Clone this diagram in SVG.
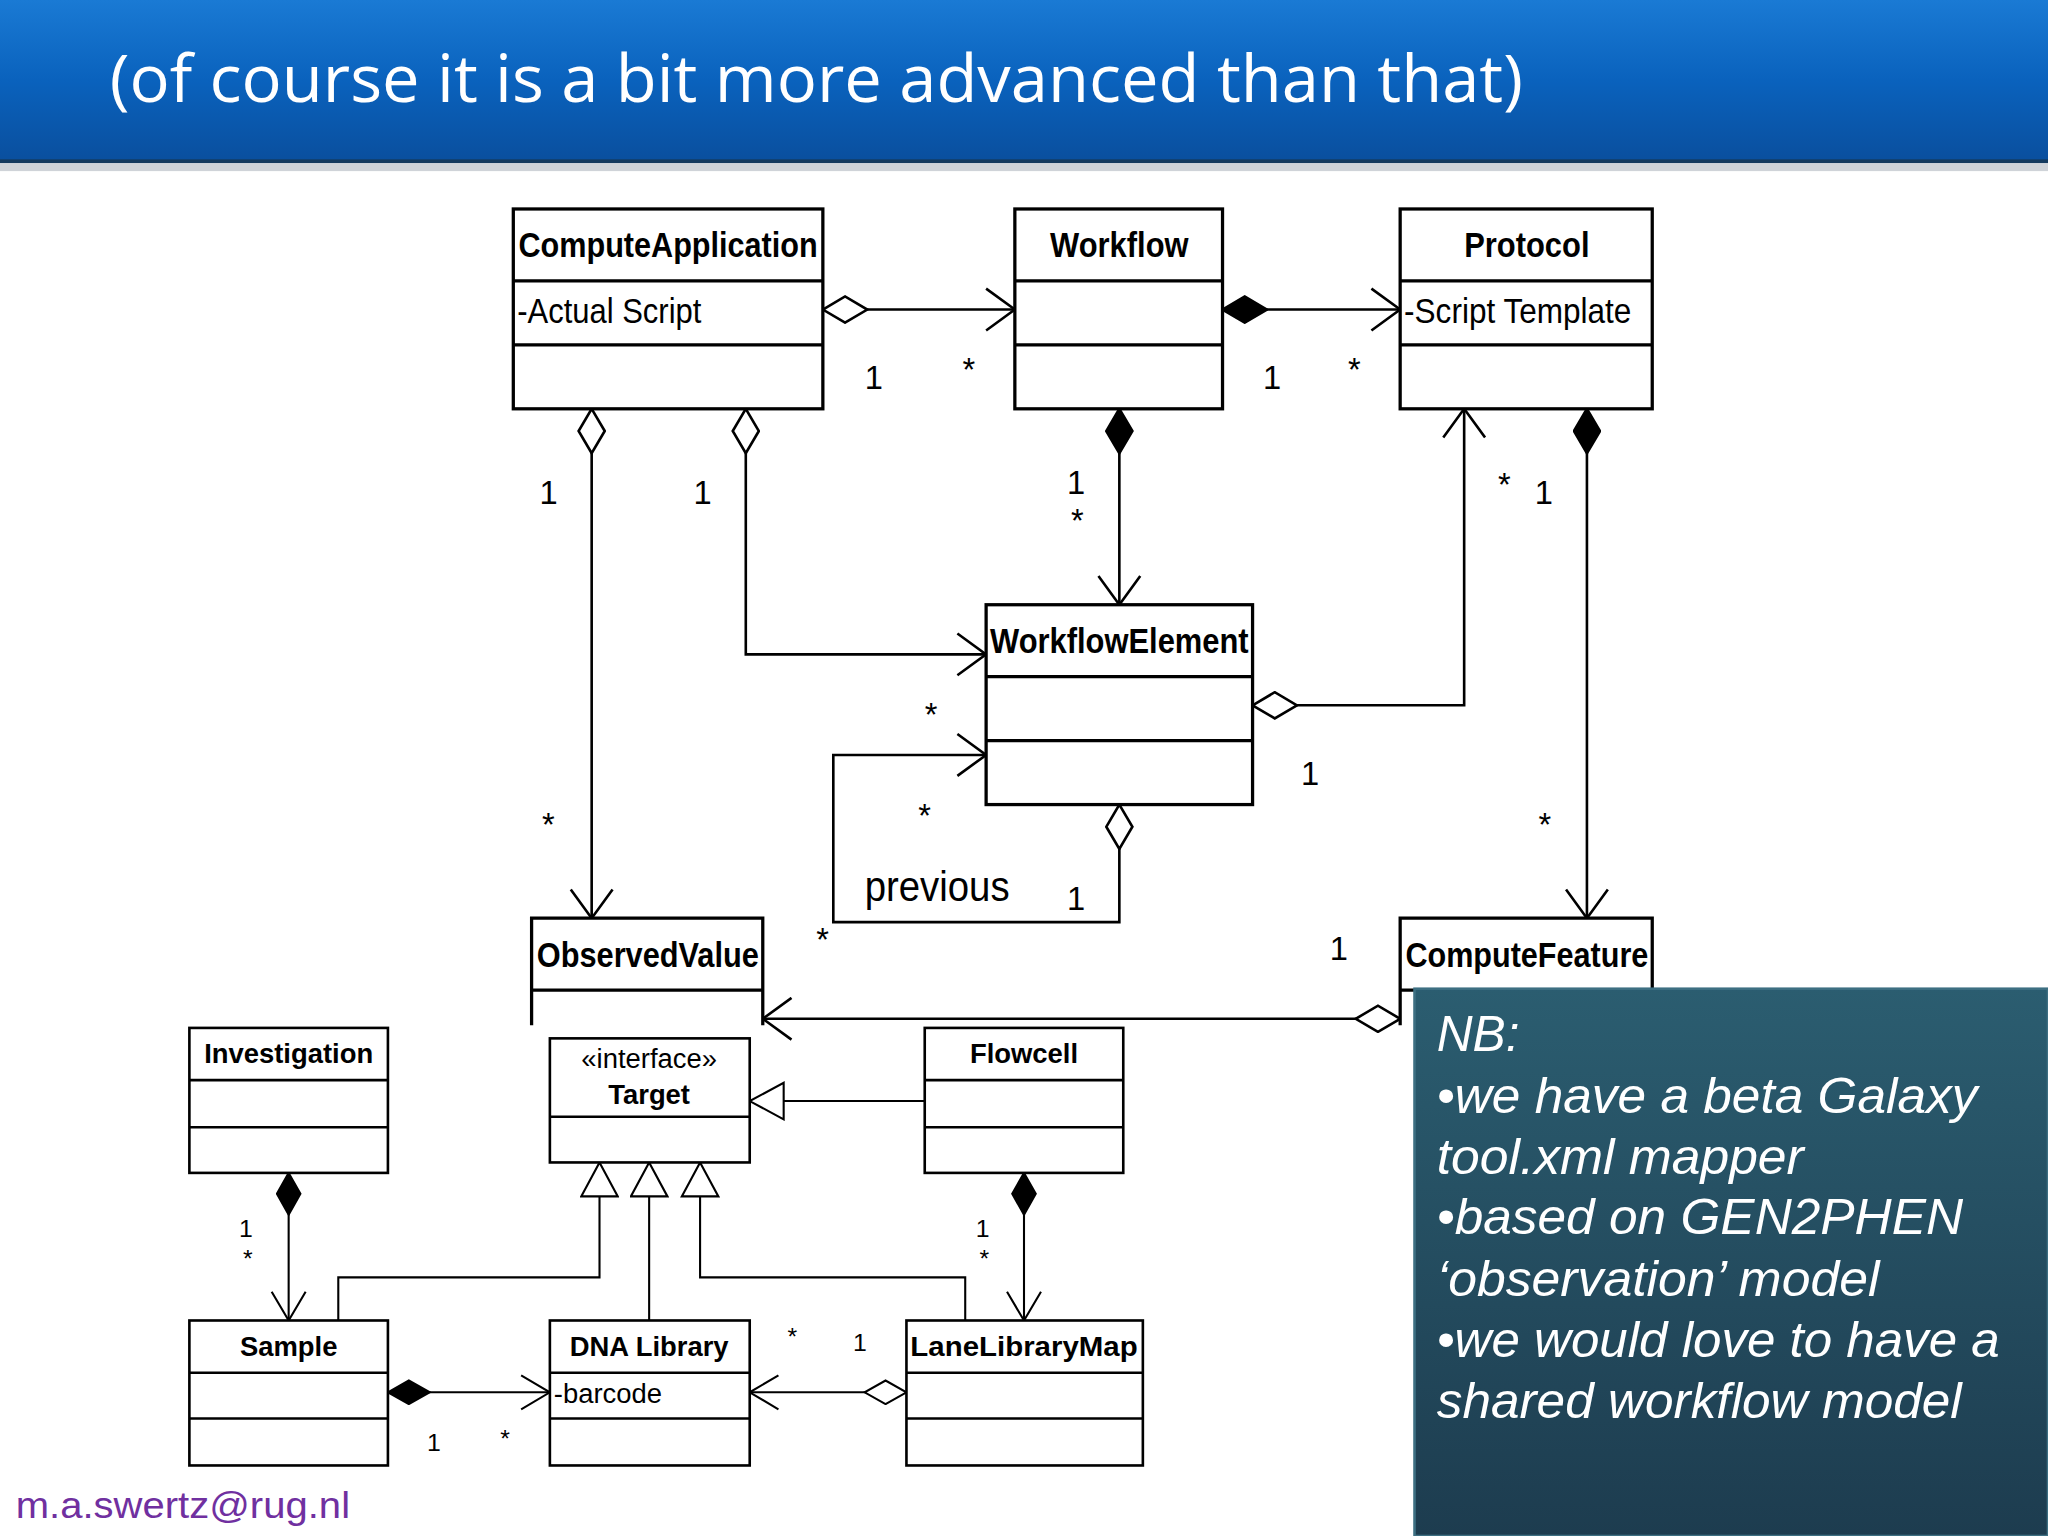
<svg xmlns="http://www.w3.org/2000/svg" width="2048" height="1536" viewBox="0 0 2048 1536">
<defs>
<linearGradient id="hdr" x1="0" y1="0" x2="0" y2="1"><stop offset="0" stop-color="#1a7ad4"/><stop offset="0.5" stop-color="#0a62bd"/><stop offset="1" stop-color="#0a4f9e"/></linearGradient>
<linearGradient id="nb" x1="0" y1="0" x2="0" y2="1"><stop offset="0" stop-color="#2b5d70"/><stop offset="1" stop-color="#1d3c4f"/></linearGradient>
<marker id="open" viewBox="0 0 24 34" refX="23" refY="17" markerWidth="24" markerHeight="34" markerUnits="userSpaceOnUse" orient="auto"><path d="M1,1 L23,17 L1,33" fill="none" stroke="#000" stroke-width="2"/></marker>
<marker id="opens" viewBox="0 0 24 28" refX="23" refY="14" markerWidth="24" markerHeight="28" markerUnits="userSpaceOnUse" orient="auto"><path d="M1,1 L23,14 L1,27" fill="none" stroke="#000" stroke-width="1.6"/></marker>
<marker id="odia" viewBox="0 0 36 22" refX="1" refY="11" markerWidth="36" markerHeight="22" markerUnits="userSpaceOnUse" orient="auto"><path d="M1,11 L18,1 L35,11 L18,21 Z" fill="#fff" stroke="#000" stroke-width="2"/></marker>
<marker id="fdia" viewBox="0 0 36 22" refX="1" refY="11" markerWidth="36" markerHeight="22" markerUnits="userSpaceOnUse" orient="auto"><path d="M1,11 L18,1 L35,11 L18,21 Z" fill="#000" stroke="#000" stroke-width="2"/></marker>
<marker id="odias" viewBox="0 0 34 20" refX="1" refY="10" markerWidth="34" markerHeight="20" markerUnits="userSpaceOnUse" orient="auto"><path d="M1,10 L17,1 L33,10 L17,19 Z" fill="#fff" stroke="#000" stroke-width="1.6"/></marker>
<marker id="fdias" viewBox="0 0 34 20" refX="1" refY="10" markerWidth="34" markerHeight="20" markerUnits="userSpaceOnUse" orient="auto"><path d="M1,10 L17,1 L33,10 L17,19 Z" fill="#000" stroke="#000" stroke-width="1.6"/></marker>
<marker id="tri" viewBox="0 0 28 30" refX="27" refY="15" markerWidth="28" markerHeight="30" markerUnits="userSpaceOnUse" orient="auto"><path d="M1,1 L27,15 L1,29 Z" fill="#fff" stroke="#000" stroke-width="1.6"/></marker>
</defs>
<style>
.b{fill:#fff;stroke:#000;stroke-width:2.5}
.bs{fill:#fff;stroke:#000;stroke-width:2}
.d{stroke:#000;stroke-width:2.5}
.ds{stroke:#000;stroke-width:2}
.c{fill:none;stroke:#000;stroke-width:2}
.cs{fill:none;stroke:#000;stroke-width:1.6}
.t{font-family:"Liberation Sans",Arial,sans-serif;font-weight:bold;font-size:27px;fill:#000}
.a{font-family:"Liberation Sans",Arial,sans-serif;font-size:27px;fill:#000}
.l{font-family:"Liberation Sans",Arial,sans-serif;font-size:25px;fill:#000}
.ts{font-family:"Liberation Sans",Arial,sans-serif;font-weight:bold;font-size:21px;fill:#000}
.as{font-family:"Liberation Sans",Arial,sans-serif;font-size:21px;fill:#000}
.ls{font-family:"Liberation Sans",Arial,sans-serif;font-size:19px;fill:#000}
.nb{font-family:"Liberation Sans",Arial,sans-serif;font-style:italic;font-size:38px;fill:#fff}
</style>
<rect width="2048" height="1536" fill="#fff"/>
<g transform="scale(1.30612)">
<g id="header">
<rect x="0" y="0" width="1568" height="123" fill="url(#hdr)"/>
<rect x="0" y="122" width="1568" height="3" fill="#143a5e"/>
<rect x="0" y="125" width="1568" height="6" fill="#cfd3d8"/>
<text x="84" y="78" font-family="'Open Sans','DejaVu Sans',sans-serif" font-size="50" fill="#fff" textLength="1082" lengthAdjust="spacingAndGlyphs">(of course it is a bit more advanced than that)</text>
</g>
<g id="connectors">
<path class="c" d="M630,237 L777,237" marker-start="url(#odia)" marker-end="url(#open)"/>
<path class="c" d="M936,237 L1072,237" marker-start="url(#fdia)" marker-end="url(#open)"/>
<path class="c" d="M453,313 L453,703" marker-start="url(#odia)" marker-end="url(#open)"/>
<path class="c" d="M571,313 L571,501 L755,501" marker-start="url(#odia)" marker-end="url(#open)"/>
<path class="c" d="M857,313 L857,463" marker-start="url(#fdia)" marker-end="url(#open)"/>
<path class="c" d="M959,540 L1121,540 L1121,313" marker-start="url(#odia)" marker-end="url(#open)"/>
<path class="c" d="M857,616 L857,706 L638,706 L638,578 L755,578" marker-start="url(#odia)" marker-end="url(#open)"/>
<path class="c" d="M1215,313 L1215,703" marker-start="url(#fdia)" marker-end="url(#open)"/>
<path class="c" d="M1072,780 L584,780" marker-start="url(#odia)" marker-end="url(#open)"/>
<path class="cs" d="M221,898 L221,1011" marker-start="url(#fdias)" marker-end="url(#opens)"/>
<path class="cs" d="M708,843 L574,843" marker-end="url(#tri)"/>
<path class="cs" d="M259,1011 L259,978 L459,978 L459,890" marker-end="url(#tri)"/>
<path class="cs" d="M497,1011 L497,890" marker-end="url(#tri)"/>
<path class="cs" d="M739,1011 L739,978 L536,978 L536,890" marker-end="url(#tri)"/>
<path class="cs" d="M784,898 L784,1011" marker-start="url(#fdias)" marker-end="url(#opens)"/>
<path class="cs" d="M297,1066 L421,1066" marker-start="url(#fdias)" marker-end="url(#opens)"/>
<path class="cs" d="M694,1066 L574,1066" marker-start="url(#odias)" marker-end="url(#opens)"/>
</g>
<g id="labels">
<text class="l" x="662" y="298">1</text><text class="l" x="737" y="292">*</text>
<text class="l" x="967" y="298">1</text><text class="l" x="1032" y="292">*</text>
<text class="l" x="413" y="386">1</text><text class="l" x="415" y="640">*</text>
<text class="l" x="531" y="386">1</text>
<text class="l" x="817" y="378">1</text><text class="l" x="820" y="407">*</text>
<text class="l" x="1147" y="380">*</text><text class="l" x="1175" y="386">1</text>
<text class="l" x="996" y="601">1</text>
<text class="l" x="708" y="556">*</text><text class="l" x="703" y="633">*</text>
<text x="662" y="690" font-family="'Liberation Sans',Arial,sans-serif" font-size="33" textLength="111" lengthAdjust="spacingAndGlyphs">previous</text>
<text class="l" x="817" y="697">1</text>
<text class="l" x="1178" y="640">*</text>
<text class="l" x="625" y="728">*</text><text class="l" x="1018" y="735">1</text>
<text class="ls" x="183" y="947">1</text><text class="ls" x="186" y="970">*</text>
<text class="ls" x="747" y="947">1</text><text class="ls" x="750" y="970">*</text>
<text class="ls" x="327" y="1111">1</text><text class="ls" x="383" y="1108">*</text>
<text class="ls" x="603" y="1030">*</text><text class="ls" x="653" y="1034">1</text>
</g>
<g id="ComputeApplication"><rect class="b" x="393" y="160" width="237" height="153"/><line class="d" x1="393" y1="215" x2="630" y2="215"/><line class="d" x1="393" y1="264" x2="630" y2="264"/><text class="t" x="397" y="197" textLength="229" lengthAdjust="spacingAndGlyphs">ComputeApplication</text><text class="a" x="396" y="247" textLength="141" lengthAdjust="spacingAndGlyphs">-Actual Script</text></g>
<g id="Workflow"><rect class="b" x="777" y="160" width="159" height="153"/><line class="d" x1="777" y1="215" x2="936" y2="215"/><line class="d" x1="777" y1="264" x2="936" y2="264"/><text class="t" x="804" y="197" textLength="106" lengthAdjust="spacingAndGlyphs">Workflow</text></g>
<g id="Protocol"><rect class="b" x="1072" y="160" width="193" height="153"/><line class="d" x1="1072" y1="215" x2="1265" y2="215"/><line class="d" x1="1072" y1="264" x2="1265" y2="264"/><text class="t" x="1121" y="197" textLength="96" lengthAdjust="spacingAndGlyphs">Protocol</text><text class="a" x="1075" y="247" textLength="174" lengthAdjust="spacingAndGlyphs">-Script Template</text></g>
<g id="WorkflowElement"><rect class="b" x="755" y="463" width="204" height="153"/><line class="d" x1="755" y1="518" x2="959" y2="518"/><line class="d" x1="755" y1="567" x2="959" y2="567"/><text class="t" x="758" y="500" textLength="198" lengthAdjust="spacingAndGlyphs">WorkflowElement</text></g>
<g id="ObservedValue"><path class="b" d="M407,785 L407,703 L584,703 L584,785"/><line class="d" x1="407" y1="758" x2="584" y2="758"/><text class="t" x="411" y="740" textLength="170" lengthAdjust="spacingAndGlyphs">ObservedValue</text></g>
<g id="ComputeFeature"><path class="b" d="M1072,785 L1072,703 L1265,703 L1265,785"/><line class="d" x1="1072" y1="758" x2="1265" y2="758"/><text class="t" x="1076" y="740" textLength="186" lengthAdjust="spacingAndGlyphs">ComputeFeature</text></g>
<g id="Investigation"><rect class="bs" x="145" y="787" width="152" height="111"/><line class="ds" x1="145" y1="827" x2="297" y2="827"/><line class="ds" x1="145" y1="863" x2="297" y2="863"/><text class="ts" x="221" y="814" text-anchor="middle">Investigation</text></g>
<g id="Target"><rect class="bs" x="421" y="795" width="153" height="95"/><line class="ds" x1="421" y1="855" x2="574" y2="855"/><text class="as" x="497" y="818" text-anchor="middle">«interface»</text><text class="ts" x="497" y="845" text-anchor="middle">Target</text></g>
<g id="Flowcell"><rect class="bs" x="708" y="787" width="152" height="111"/><line class="ds" x1="708" y1="827" x2="860" y2="827"/><line class="ds" x1="708" y1="863" x2="860" y2="863"/><text class="ts" x="784" y="814" text-anchor="middle">Flowcell</text></g>
<g id="Sample"><rect class="bs" x="145" y="1011" width="152" height="111"/><line class="ds" x1="145" y1="1051" x2="297" y2="1051"/><line class="ds" x1="145" y1="1086" x2="297" y2="1086"/><text class="ts" x="221" y="1038" text-anchor="middle">Sample</text></g>
<g id="DNALibrary"><rect class="bs" x="421" y="1011" width="153" height="111"/><line class="ds" x1="421" y1="1051" x2="574" y2="1051"/><line class="ds" x1="421" y1="1086" x2="574" y2="1086"/><text class="ts" x="497" y="1038" text-anchor="middle">DNA Library</text><text class="as" x="424" y="1074">-barcode</text></g>
<g id="LaneLibraryMap"><rect class="bs" x="694" y="1011" width="181" height="111"/><line class="ds" x1="694" y1="1051" x2="875" y2="1051"/><line class="ds" x1="694" y1="1086" x2="875" y2="1086"/><text class="ts" x="784" y="1038" text-anchor="middle" textLength="174" lengthAdjust="spacingAndGlyphs">LaneLibraryMap</text></g>
<g id="NB">
<rect x="1083" y="757" width="485" height="419" fill="url(#nb)" stroke="#3d6f82" stroke-width="2"/>
<text class="nb" x="1100" y="805">NB:</text>
<text class="nb" x="1100" y="852" textLength="414" lengthAdjust="spacingAndGlyphs">•we have a beta Galaxy</text>
<text class="nb" x="1100" y="899" textLength="281" lengthAdjust="spacingAndGlyphs">tool.xml mapper</text>
<text class="nb" x="1100" y="945" textLength="403" lengthAdjust="spacingAndGlyphs">•based on GEN2PHEN</text>
<text class="nb" x="1100" y="992" textLength="339" lengthAdjust="spacingAndGlyphs">‘observation’ model</text>
<text class="nb" x="1100" y="1039" textLength="431" lengthAdjust="spacingAndGlyphs">•we would love to have a</text>
<text class="nb" x="1100" y="1086" textLength="402" lengthAdjust="spacingAndGlyphs">shared workflow model</text>
</g>
<text x="12" y="1162" font-family="'Liberation Sans',Arial,sans-serif" font-size="28" fill="#7030a0" textLength="256" lengthAdjust="spacingAndGlyphs">m.a.swertz@rug.nl</text>
</g>
</svg>
